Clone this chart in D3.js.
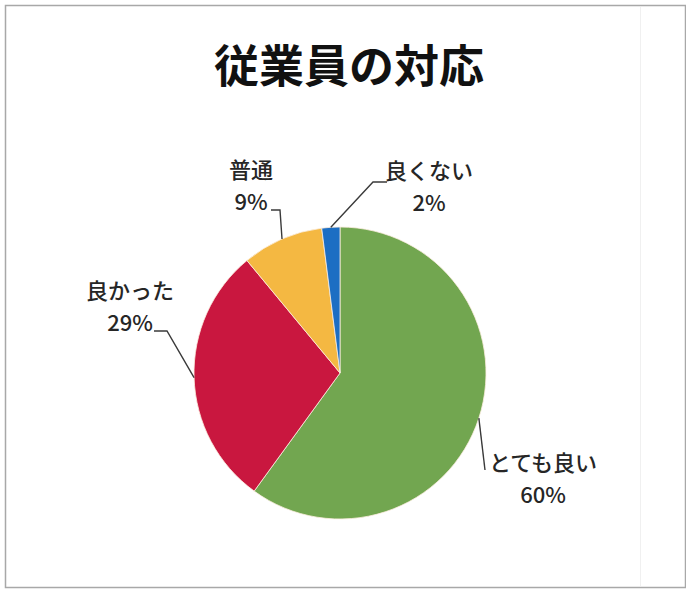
<!DOCTYPE html>
<html>
<head>
<meta charset="utf-8">
<script src="https://cdn.jsdelivr.net/npm/d3@7"></script>
<style>
  html, body { margin: 0; padding: 0; background: #fff; }
  svg { display: block; }
  text { font-family: "Noto Sans CJK JP", "Noto Sans", sans-serif; }
</style>
</head>
<body>
<svg id="chart" width="686" height="593"></svg>
<script>
// Survey: staff response
const title = "従業員の対応";
const categories = ["とても良い", "良かった", "普通", "良くない"];
const values = [60, 29, 9, 2];
const colors = ["#72a650", "#c9173f", "#f4b842", "#1c6ec3"];

const W = 686, H = 593;
const cx = 340, cy = 373, R = 146;

const svg = d3.select("#chart");

// outer frame
svg.append("rect")
  .attr("x", 5.5).attr("y", 5.5)
  .attr("width", 680).attr("height", 582)
  .attr("fill", "#fff")
  .attr("stroke", "#a8a8a8").attr("stroke-width", 1.5);
svg.append("line")
  .attr("x1", 640.5).attr("x2", 640.5).attr("y1", 7).attr("y2", 586)
  .attr("stroke", "#f0f0f0").attr("stroke-width", 1);

svg.append("text")
  .attr("x", 349).attr("y", 67)
  .attr("dy", "0.35em")
  .attr("text-anchor", "middle")
  .attr("font-size", 45)
  .attr("font-weight", 700)
  .attr("fill", "#111")
  .text(title);

const pie = d3.pie().sort(null).value(d => d)
  .startAngle(0).endAngle(2 * Math.PI);
const arcs = pie(values);
const arc = d3.arc().innerRadius(0).outerRadius(R);

const g = svg.append("g").attr("transform", `translate(${cx},${cy})`);
g.selectAll("path.slice")
  .data(arcs)
  .join("path")
  .attr("class", "slice")
  .attr("d", arc)
  .attr("fill", (d, i) => colors[i])
  .attr("stroke", "#fbeee0")
  .attr("stroke-width", 0.8);

// label placement: label centre and leader elbow, relative to the pie centre
const labelLayout = [
  { lx: 203, ly: 106, path: [[145, 97]] },
  { lx: -210, ly: -66, path: [[-173, -42], [-186, -42]] },
  { lx: -89, ly: -187, path: [[-60, -163], [-69, -163]] },
  { lx: 89, ly: -186, path: [[33, -191], [47, -191]] }
];

const pt = (a, r) => [Math.sin(a) * r, -Math.cos(a) * r];

arcs.forEach((d, i) => {
  const mid = (d.startAngle + d.endAngle) / 2;
  const start = pt(mid, R);
  const L = labelLayout[i];
  g.append("path")
    .attr("d", d3.line()([start, ...L.path]))
    .attr("fill", "none")
    .attr("stroke", "#3a3a3a")
    .attr("stroke-width", 1.4);
  const t = g.append("text")
    .attr("text-anchor", "middle")
    .attr("font-size", 22)
    .attr("font-weight", 500)
    .attr("fill", "#262626");
  t.append("tspan")
    .attr("x", L.lx).attr("y", L.ly - 16).attr("dy", "0.35em")
    .text(categories[i]);
  t.append("tspan")
    .attr("x", L.lx).attr("y", L.ly + 16).attr("dy", "0.35em")
    .text(d3.format("d")(d.data) + "%");
});
</script>
</body>
</html>
